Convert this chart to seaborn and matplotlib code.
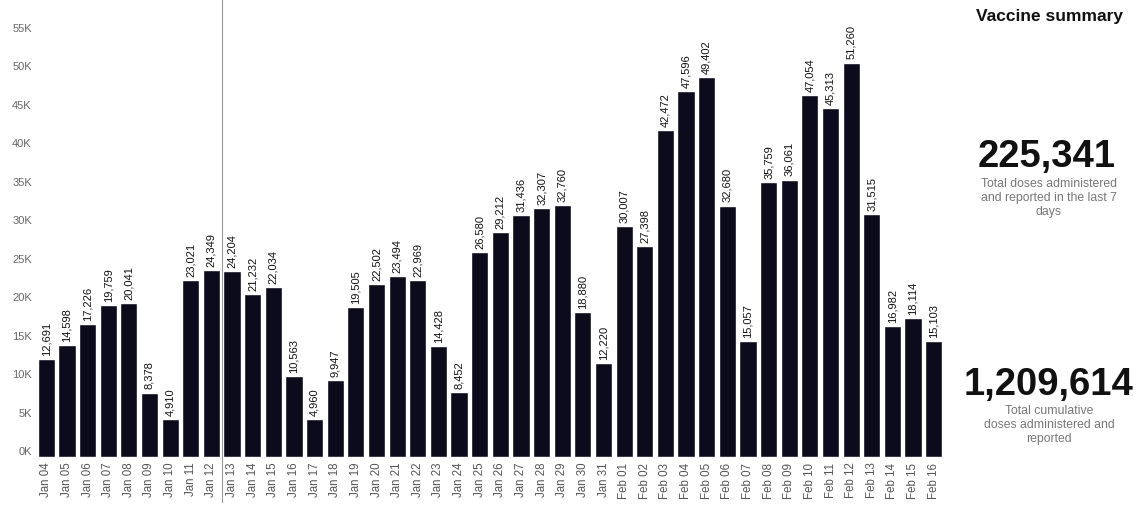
import matplotlib
matplotlib.use("Agg")
import matplotlib.pyplot as plt
import seaborn as sns
import pandas as pd

# Daily doses administered and reported
dates = [f"Jan {d:02d}" for d in range(4, 32)] + [f"Feb {d:02d}" for d in range(1, 17)]
doses = [12691, 14598, 17226, 19759, 20041, 8378, 4910, 23021, 24349, 24204,
         21232, 22034, 10563, 4960, 9947, 19505, 22502, 23494, 22969, 14428,
         8452, 26580, 29212, 31436, 32307, 32760, 18880, 12220,
         30007, 27398, 42472, 47596, 49402, 32680, 15057, 35759, 36061,
         47054, 45313, 51260, 31515, 16982, 18114, 15103]

y_ticks = [0, 5000, 10000, 15000, 20000, 25000, 30000, 35000, 40000, 45000, 50000, 55000]
y_tick_labels = [f"{v // 1000}K" for v in y_ticks]

summary_title = "Vaccine summary"
last7_total = "225,341"
last7_caption = "Total doses administered\nand reported in the last 7\ndays"
cumulative_total = "1,209,614"
cumulative_caption = "Total cumulative\ndoses administered and\nreported"

df = pd.DataFrame({"date": dates, "doses": doses})

sns.set_theme(style="white")
plt.rcParams["font.family"] = ["Liberation Sans", "DejaVu Sans"]

fig = plt.figure(figsize=(11.36, 5.05), dpi=100)
ax = fig.add_axes([36 / 1136, 48 / 505, 908 / 1136, 454 / 505])

sns.barplot(data=df, x="date", y="doses", color="#0b0b1c", width=0.83,
            saturation=1, ax=ax)

ax.set_ylim(0, 59000)
ax.set_xlim(-0.5, len(dates) - 0.5)
ax.set_yticks(y_ticks)
ax.set_yticklabels(y_tick_labels, fontsize=8, color="#666666", va="bottom")
ax.tick_params(axis="y", length=0, pad=3)
ax.tick_params(axis="x", length=0, pad=4, labelrotation=90, labelsize=8.3,
               labelcolor="#555555")
ax.set_xlabel("")
ax.set_ylabel("")
for s in ax.spines.values():
    s.set_visible(False)

# Value labels on top of each bar
for i, v in enumerate(doses):
    ax.text(i, v + 400, f"{v:,}", rotation=90, ha="center", va="bottom",
            fontsize=8, color="#111111")

# Thin separator line between Jan 12 and Jan 13
ax.axvline(8.5, ymin=-0.1, ymax=1.02, color="#999999", linewidth=0.8,
           clip_on=False)

# Summary panel
fig.text(1050 / 1136, 1 - 17 / 505, summary_title, ha="center", va="center",
         fontsize=12.5, fontweight="bold", color="#111111")
fig.text(1047 / 1136, 1 - 157 / 505, last7_total, ha="center", va="center",
         fontsize=27.5, fontweight="bold", color="#111111")
fig.text(1049 / 1136, 1 - 198 / 505, last7_caption, ha="center", va="center",
         fontsize=8.8, color="#777777", linespacing=1.2)
fig.text(1049 / 1136, 1 - 385 / 505, cumulative_total, ha="center", va="center",
         fontsize=27.5, fontweight="bold", color="#111111")
fig.text(1049 / 1136, 1 - 425 / 505, cumulative_caption, ha="center", va="center",
         fontsize=8.8, color="#777777", linespacing=1.2)

fig.savefig("out.png", dpi=100)
